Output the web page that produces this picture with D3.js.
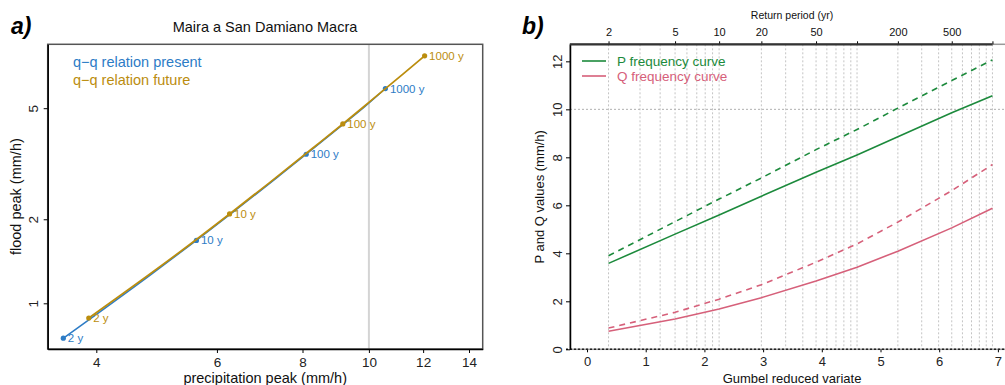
<!DOCTYPE html>
<html>
<head>
<meta charset="utf-8">
<script src="https://cdn.jsdelivr.net/npm/d3@7"></script>
<style>
  body { margin: 0; background: #fff; }
  svg text { font-family: "Liberation Sans", Arial, sans-serif; }
</style>
</head>
<body>
<div id="app"></div>
<script>
// return periods used for both panels
const returnPeriods = [2, 5, 10, 20, 50, 100, 200, 500, 1000];
const pPresent = [3.58, 4.80, 5.60, 6.38, 7.38, 8.10, 8.86, 9.86, 10.57];
const pFuture  = [3.90, 5.32, 6.26, 7.14, 8.32, 9.16, 10.05, 11.20, 12.06];
const qPresent = [0.75, 1.265, 1.68, 2.15, 2.85, 3.42, 4.09, 5.06, 5.88];
const qFuture  = [0.886, 1.54, 2.09, 2.69, 3.63, 4.39, 5.30, 6.61, 7.70];
const labelled = [2, 10, 100, 1000];

const leftXTicks = [4, 6, 8, 10, 12, 14];
const leftYTicks = [1, 2, 5];
const rightXTicks = [0, 1, 2, 3, 4, 5, 6, 7];
const rightYTicks = [0, 2, 4, 6, 8, 10, 12];
const topTicks = [2, 5, 10, 20, 50, 100, 200, 500, 1000];
const topLabels = ['2', '5', '10', '20', '50', '', '200', '500', ''];
const gridPeriods = [2, 3, 4, 5, 6, 7, 8, 9, 10, 20, 30, 40, 50, 60, 70, 80, 90, 100,
  200, 300, 400, 500, 600, 700, 800, 900, 1000];

const blue = '#2d7cc6', gold = '#bb8d0e', green = '#1c8a3c', pink = '#d6607a';

const width = 1005, height = 385;
const svg = d3.select('#app').append('svg')
  .attr('width', width).attr('height', height);

const gumbel = T => -Math.log(-Math.log(1 - 1 / T));

// ---------- panel a ----------
const a = { left: 47.7, right: 482.7, top: 44.3, bottom: 349 };
const xA = d3.scaleLog().domain([3.397, 14.66]).range([a.left, a.right]);
const yA = d3.scaleLog().domain([0.686, 8.47]).range([a.bottom, a.top]);

svg.append('line')
  .attr('x1', xA(10)).attr('x2', xA(10))
  .attr('y1', a.top).attr('y2', a.bottom)
  .attr('stroke', '#d4d4d4').attr('stroke-width', 2);

svg.append('rect')
  .attr('x', a.left).attr('y', a.top)
  .attr('width', a.right - a.left).attr('height', a.bottom - a.top)
  .attr('fill', 'none').attr('stroke', '#555').attr('stroke-width', 1.5);

const gxA = svg.append('g')
  .attr('transform', `translate(0,${a.bottom})`)
  .call(d3.axisBottom(xA).tickValues(leftXTicks).tickFormat(d3.format('d'))
    .tickSize(4).tickSizeOuter(0).tickPadding(4));
gxA.select('.domain').attr('stroke', '#000').attr('stroke-width', 1.5);
gxA.selectAll('text').attr('font-size', 13.5).attr('fill', '#222');

const gyA = svg.append('g')
  .attr('transform', `translate(${a.left},0)`)
  .call(d3.axisLeft(yA).tickValues(leftYTicks).tickFormat(d3.format('d'))
    .tickSize(4).tickSizeOuter(0));
gyA.select('.domain').attr('stroke', '#000').attr('stroke-width', 1.5);
gyA.selectAll('text')
  .attr('font-size', 13.5).attr('fill', '#222')
  .attr('text-anchor', 'middle').attr('x', null).attr('dy', null)
  .attr('transform', 'translate(-10,0) rotate(-90)');

const lineA = d3.line().x(d => xA(d[0])).y(d => yA(d[1])).curve(d3.curveMonotoneX);
const series = [
  { p: pPresent, q: qPresent, color: blue, w: 1.5 },
  { p: pFuture, q: qFuture, color: gold, w: 1.8 }
];
series.forEach(s => {
  const pts = returnPeriods.map((T, i) => [s.p[i], s.q[i], T]);
  svg.append('path').datum(pts)
    .attr('d', lineA).attr('fill', 'none')
    .attr('stroke', s.color).attr('stroke-width', s.w);
  const lab = pts.filter(d => labelled.includes(d[2]));
  svg.selectAll(null).data(lab).join('circle')
    .attr('cx', d => xA(d[0])).attr('cy', d => yA(d[1]))
    .attr('r', 2.6).attr('fill', s.color);
  svg.selectAll(null).data(lab).join('text')
    .attr('x', d => xA(d[0]) + 4.5).attr('y', d => yA(d[1]) + 4)
    .attr('font-size', 11.5).attr('fill', s.color)
    .text(d => `${d[2]} y`);
});

svg.append('text').attr('x', 73).attr('y', 67)
  .attr('font-size', 14.5).attr('fill', blue).text('q\u2212q relation present');
svg.append('text').attr('x', 73).attr('y', 85)
  .attr('font-size', 14.5).attr('fill', gold).text('q\u2212q relation future');

svg.append('text').attr('x', 265).attr('y', 32)
  .attr('text-anchor', 'middle').attr('font-size', 14.5).attr('fill', '#111')
  .text('Maira a San Damiano Macra');
svg.append('text').attr('x', (a.left + a.right) / 2).attr('y', 383)
  .attr('text-anchor', 'middle').attr('font-size', 14.5).attr('fill', '#111')
  .text('precipitation peak (mm/h)');
svg.append('text')
  .attr('transform', `translate(21,${(a.top + a.bottom) / 2}) rotate(-90)`)
  .attr('text-anchor', 'middle').attr('font-size', 14.5).attr('fill', '#111')
  .text('flood peak (mm/h)');
svg.append('text').attr('x', 11).attr('y', 34)
  .attr('font-size', 23).attr('font-weight', 'bold').attr('font-style', 'italic')
  .text('a)');

// ---------- panel b ----------
const b = { left: 570, right: 1004, top: 44.3, bottom: 349.3 };
const xB = d3.scaleLinear().domain([-0.29, 7.104]).range([b.left, b.right]);
const yB = d3.scaleLinear().domain([0, 12.71]).range([b.bottom, b.top]);

svg.append('g').selectAll('line').data(gridPeriods).join('line')
  .attr('x1', d => xB(gumbel(d))).attr('x2', d => xB(gumbel(d)))
  .attr('y1', b.top).attr('y2', b.bottom)
  .attr('stroke', '#c4c4c4').attr('stroke-width', 1).attr('stroke-dasharray', '2,2');
svg.append('line')
  .attr('x1', b.left).attr('x2', width).attr('y1', yB(10)).attr('y2', yB(10))
  .attr('stroke', '#b0b0b0').attr('stroke-dasharray', '2,2');

// box (gray), axes drawn on top
svg.append('rect')
  .attr('x', b.left).attr('y', b.top)
  .attr('width', b.right - b.left + 10).attr('height', b.bottom - b.top)
  .attr('fill', 'none').attr('stroke', '#999').attr('stroke-width', 1.5);

const gxB = svg.append('g')
  .attr('transform', `translate(0,${b.bottom})`)
  .call(d3.axisBottom(xB).tickValues(rightXTicks).tickSize(3).tickPadding(4));
gxB.select('.domain').remove();
gxB.selectAll('text').attr('font-size', 13).attr('fill', '#222');
svg.append('line')
  .attr('x1', 566).attr('x2', width).attr('y1', b.bottom).attr('y2', b.bottom)
  .attr('stroke', '#222').attr('stroke-width', 1.5).attr('stroke-dasharray', '2,2');

const gyB = svg.append('g')
  .attr('transform', `translate(${b.left},0)`)
  .call(d3.axisLeft(yB).tickValues(rightYTicks).tickSize(4).tickSizeOuter(0));
gyB.select('.domain').attr('stroke', '#000').attr('stroke-width', 1.5);
gyB.selectAll('text')
  .attr('font-size', 13).attr('fill', '#222')
  .attr('text-anchor', 'middle').attr('x', null).attr('dy', null)
  .attr('transform', 'translate(-8,0) rotate(-90)');

const xTop = d3.scaleLinear().domain(xB.domain()).range(xB.range());
const gTop = svg.append('g')
  .attr('transform', `translate(0,${b.top})`)
  .call(d3.axisTop(xTop).tickValues(topTicks.map(gumbel))
    .tickFormat((d, i) => topLabels[i]).tickSize(3).tickPadding(5));
gTop.select('.domain').remove();
gTop.selectAll('text').attr('font-size', 11).attr('fill', '#111');
svg.append('line')
  .attr('x1', b.left).attr('x2', xB(gumbel(1000)))
  .attr('y1', b.top).attr('y2', b.top)
  .attr('stroke', '#333').attr('stroke-width', 2.2);
svg.append('text').attr('x', 792).attr('y', 19)
  .attr('text-anchor', 'middle').attr('font-size', 10.5).attr('fill', '#111')
  .text('Return period (yr)');

const lineB = d3.line().x(d => xB(gumbel(d[0]))).y(d => yB(d[1]));
const curves = [
  { v: pPresent, color: green, dash: null },
  { v: pFuture, color: green, dash: '6,5' },
  { v: qPresent, color: pink, dash: null },
  { v: qFuture, color: pink, dash: '6,5' }
];
curves.forEach(c => {
  svg.append('path').datum(returnPeriods.map((T, i) => [T, c.v[i]]))
    .attr('d', lineB).attr('fill', 'none')
    .attr('stroke', c.color).attr('stroke-width', 1.6)
    .attr('stroke-dasharray', c.dash);
});

const legB = [
  { label: 'P frequency curve', color: green, y: 61 },
  { label: 'Q frequency curve', color: pink, y: 76 }
];
legB.forEach(l => {
  svg.append('line').attr('x1', 582).attr('x2', 606)
    .attr('y1', l.y).attr('y2', l.y)
    .attr('stroke', l.color).attr('stroke-width', 1.6);
  svg.append('text').attr('x', 617).attr('y', l.y + 5)
    .attr('font-size', 13.5).attr('fill', l.color).text(l.label);
});

svg.append('text').attr('x', 792).attr('y', 383)
  .attr('text-anchor', 'middle').attr('font-size', 13).attr('fill', '#111')
  .text('Gumbel reduced variate');
svg.append('text')
  .attr('transform', `translate(544,${(b.top + b.bottom) / 2}) rotate(-90)`)
  .attr('text-anchor', 'middle').attr('font-size', 13).attr('fill', '#111')
  .text('P and Q values (mm/h)');
svg.append('text').attr('x', 522).attr('y', 34)
  .attr('font-size', 23).attr('font-weight', 'bold').attr('font-style', 'italic')
  .text('b)');
</script>
</body>
</html>
